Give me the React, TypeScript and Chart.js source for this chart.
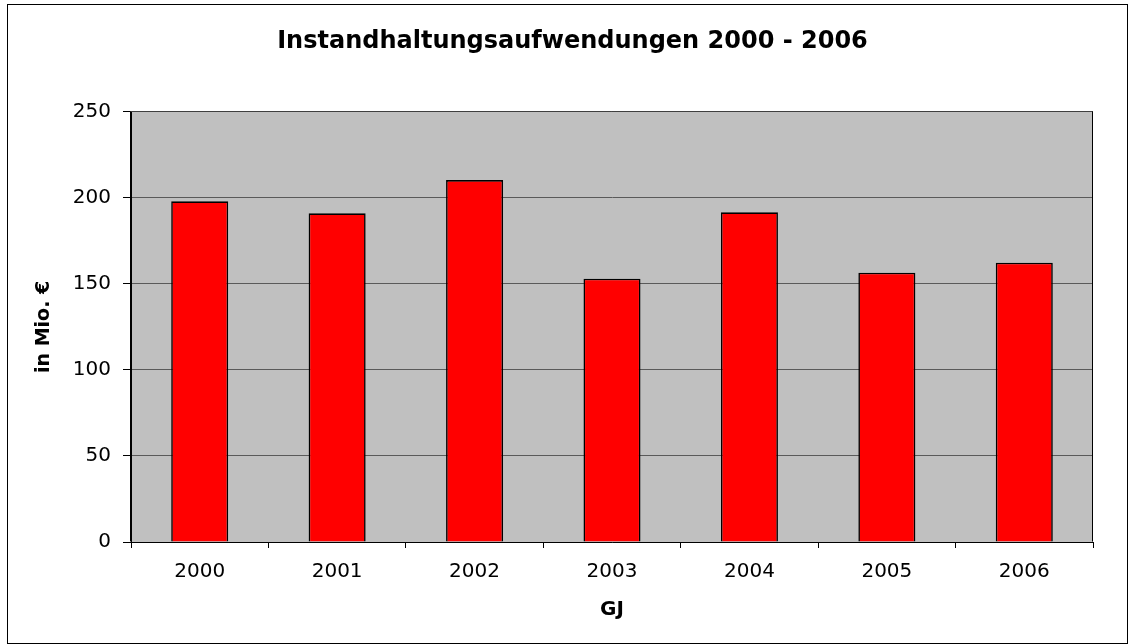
import React, { useEffect, useRef } from "react";
import { Chart, registerables } from "chart.js";

Chart.register(...registerables);

const categories: string[] = ["2000", "2001", "2002", "2003", "2004", "2005", "2006"];
const values: number[] = [198, 191, 210.3, 153, 191.6, 156.5, 162.3];
const yTicks: number[] = [0, 50, 100, 150, 200, 250];
const titleText = "Instandhaltungsaufwendungen 2000 - 2006";
const yTitle = "in Mio. €";
const xTitle = "GJ";

const FONT = "'DejaVu Sans', 'Liberation Sans', Arial, sans-serif";

const framePlugin = {
  id: "framePlugin",
  beforeDraw(chart: any) {
    const { ctx, chartArea } = chart;
    ctx.save();
    ctx.fillStyle = "#ffffff";
    ctx.fillRect(0, 0, chart.width, chart.height);
    ctx.fillStyle = "#c0c0c0";
    ctx.fillRect(chartArea.left, chartArea.top, chartArea.right - chartArea.left, chartArea.bottom - chartArea.top);
    ctx.restore();
  },
  afterDraw(chart: any) {
    const { ctx, chartArea } = chart;
    ctx.save();
    ctx.lineWidth = 1;
    const l = Math.round(chartArea.left) - 0.5;
    const t = Math.round(chartArea.top) - 0.5;
    const r = Math.round(chartArea.right) - 0.5;
    const b = Math.round(chartArea.bottom) - 0.5;
    ctx.beginPath();
    ctx.strokeStyle = "#000";
    ctx.moveTo(l, b);
    ctx.lineTo(l, t);
    ctx.stroke();
    ctx.beginPath();
    ctx.strokeStyle = "#404040";
    ctx.moveTo(l, t);
    ctx.lineTo(r, t);
    ctx.stroke();
    ctx.beginPath();
    ctx.strokeStyle = "#000";
    ctx.moveTo(r, t);
    ctx.lineTo(r, b);
    ctx.stroke();
    // outer frame
    ctx.strokeStyle = "#000";
    ctx.strokeRect(7.5, 4.5, 1120, 639);
    ctx.restore();
  },
};

export default function App() {
  const canvasRef = useRef<HTMLCanvasElement | null>(null);

  useEffect(() => {
    if (!canvasRef.current) return;
    const chart = new Chart(canvasRef.current, {
      type: "bar",
      data: {
        labels: categories,
        datasets: [
          {
            data: values,
            backgroundColor: "#ff0000",
            borderColor: "#000000",
            borderWidth: 1.6,
            categoryPercentage: 1,
            barPercentage: 0.415,
          },
        ],
      },
      options: {
        responsive: false,
        animation: false,
        layout: { padding: { left: 52, right: 35, top: 0, bottom: 10 } },
        plugins: {
          legend: { display: false },
          tooltip: { enabled: false },
          title: {
            display: true,
            text: titleText,
            color: "#000",
            font: { family: FONT, size: 24, weight: "bold" },
            padding: { top: 27, bottom: 56 },
          },
        },
        scales: {
          x: {
            grid: {
              offset: true,
              drawOnChartArea: false,
              drawTicks: true,
              tickLength: 6,
              color: "#000",
            },
            border: { display: true, color: "#000", width: 1 },
            ticks: {
              color: "#000",
              font: { family: FONT, size: 20 },
              padding: 12,
              maxRotation: 0,
            },
            title: {
              display: true,
              text: xTitle,
              color: "#000",
              font: { family: FONT, size: 20, weight: "bold" },
              padding: { top: 0, bottom: 12 },
            },
            afterFit(scale: any) {
              scale.height = 92;
            },
          },
          y: {
            min: 0,
            max: 250,
            afterBuildTicks(scale: any) {
              scale.ticks = yTicks.map((v) => ({ value: v }));
            },
            grid: {
              color: "#5a5a5a",
              tickColor: "#000",
              tickLength: 8,
              lineWidth: 1,
            },
            border: { display: true, color: "#000", width: 1 },
            ticks: {
              color: "#000",
              font: { family: FONT, size: 20 },
              padding: 12,
            },
            title: {
              display: true,
              text: yTitle,
              color: "#000",
              font: { family: FONT, size: 19, weight: "bold" },
              padding: { top: -19.5, bottom: 0 },
            },
            afterFit(scale: any) {
              scale.width = 79;
            },
          },
        },
      },
      plugins: [framePlugin],
    });
    return () => chart.destroy();
  }, []);

  return (
    <div style={{ position: "absolute", left: 0, top: 0, width: 1128, height: 644 }}>
      <canvas ref={canvasRef} width={1128} height={644} style={{ display: "block" }} />
    </div>
  );
}
